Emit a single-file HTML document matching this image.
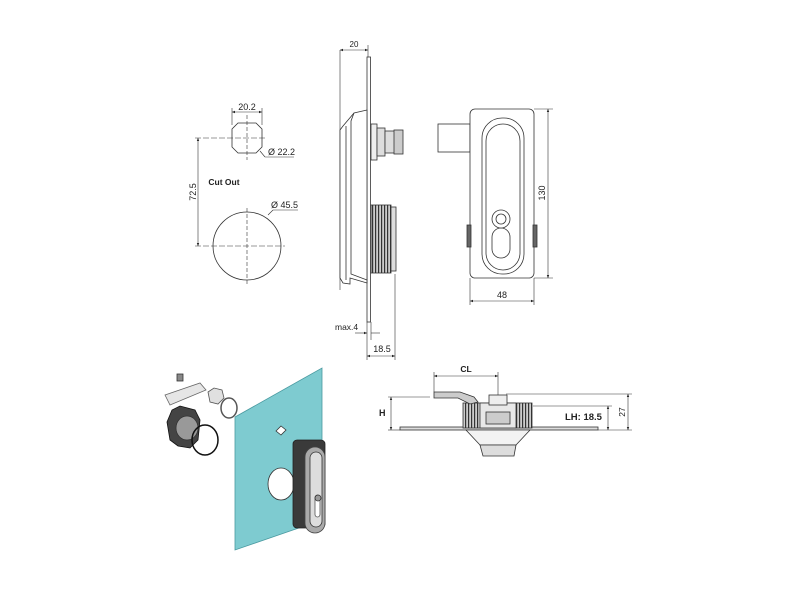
<!DOCTYPE html>
<html><head><meta charset="utf-8"><style>
html,body{margin:0;padding:0;background:#fff;}
svg{display:block;font-family:"Liberation Sans",sans-serif;}
</style></head><body>
<svg width="800" height="600" viewBox="0 0 800 600" xmlns="http://www.w3.org/2000/svg">
<defs>
<marker id="a" viewBox="0 0 10 10" refX="10" refY="5" markerWidth="5" markerHeight="5" orient="auto-start-reverse"><path d="M0,1 L10,5 L0,9z" fill="#222"/></marker>
<pattern id="h" width="3" height="10" patternUnits="userSpaceOnUse"><rect width="3" height="10" fill="#ccc"/><rect width="1.2" height="10" fill="#333"/></pattern>
</defs>
<g stroke="#333" stroke-width="0.8" fill="none">
<!-- Cut out -->
<path d="M238,123 L256,123 L262,129 L262,147 L256,153 L238,153 L232,147 L232,129 Z" fill="#fff"/>
<line x1="247" y1="115" x2="247" y2="160" stroke-dasharray="4,2" stroke-width="0.6"/>
<line x1="195" y1="138" x2="266" y2="138" stroke-dasharray="6,2" stroke-width="0.6"/>
<line x1="232" y1="108" x2="232" y2="125" stroke-width="0.6"/>
<line x1="262" y1="108" x2="262" y2="125" stroke-width="0.6"/>
<line x1="232" y1="112" x2="262" y2="112" marker-start="url(#a)" marker-end="url(#a)" stroke-width="0.6"/>
<line x1="260" y1="151" x2="265" y2="157" stroke-width="0.6"/>
<line x1="265" y1="157" x2="294" y2="157" stroke-width="0.6"/>
<circle cx="247" cy="246" r="34" fill="#fff"/>
<line x1="247" y1="208" x2="247" y2="285" stroke-dasharray="4,2" stroke-width="0.6"/>
<line x1="195" y1="246" x2="285" y2="246" stroke-dasharray="6,2" stroke-width="0.6"/>
<line x1="198" y1="138" x2="198" y2="246" marker-start="url(#a)" marker-end="url(#a)" stroke-width="0.6"/>
<line x1="268" y1="215" x2="273" y2="210" stroke-width="0.6"/>
<line x1="273" y1="210" x2="298" y2="210" stroke-width="0.6"/>
<!-- Side view -->
<line x1="340" y1="50" x2="340" y2="290" stroke-width="0.6"/>
<line x1="368" y1="45" x2="368" y2="57" stroke-width="0.6"/>
<line x1="340" y1="50" x2="368" y2="50" marker-start="url(#a)" marker-end="url(#a)" stroke-width="0.6"/>
<rect x="367" y="57" width="3.5" height="265" fill="#fff"/>
<path d="M367,110 L354,113 L343,126 L340,130 L340,278 L343,283 L350,284 L350,278 L367,283 Z" fill="#fff"/>
<path d="M354,113 L351,121 L351,274 L367,280" />
<line x1="346" y1="126" x2="346" y2="280"/>
<rect x="371" y="124" width="6" height="36" fill="#eee"/>
<rect x="377" y="128" width="8" height="28" fill="#ddd"/>
<rect x="385" y="131" width="10" height="22" fill="#ddd"/>
<rect x="394" y="130" width="9" height="24" fill="#ccc"/>
<rect x="371" y="205" width="20" height="68" fill="url(#h)"/>
<rect x="391" y="207" width="5" height="64" fill="#ddd"/>
<line x1="395" y1="274" x2="395" y2="360" stroke-width="0.6"/>
<line x1="367" y1="322" x2="367" y2="360" stroke-width="0.6"/>
<line x1="371" y1="322" x2="371" y2="340" stroke-width="0.6"/>
<line x1="355" y1="333" x2="367" y2="333" marker-end="url(#a)" stroke-width="0.6"/>
<line x1="371" y1="333" x2="380" y2="333" stroke-width="0.6"/>
<line x1="367" y1="356" x2="395" y2="356" marker-start="url(#a)" marker-end="url(#a)" stroke-width="0.6"/>
<!-- Front view -->
<rect x="438" y="124" width="32" height="28" fill="#fff"/>
<rect x="470" y="109" width="64" height="169" rx="5" fill="#fff"/>
<rect x="482" y="118" width="42" height="156" rx="20" fill="#fff"/>
<rect x="486" y="124" width="34" height="146" rx="17"/>
<rect x="492" y="228" width="18" height="30" rx="9"/>
<circle cx="501" cy="219" r="9" fill="#fff"/>
<circle cx="501" cy="219" r="5"/>
<rect x="467" y="225" width="4" height="22" fill="#666"/>
<rect x="533" y="225" width="4" height="22" fill="#666"/>
<line x1="534" y1="109" x2="553" y2="109" stroke-width="0.6"/>
<line x1="534" y1="278" x2="553" y2="278" stroke-width="0.6"/>
<line x1="548" y1="109" x2="548" y2="278" marker-start="url(#a)" marker-end="url(#a)" stroke-width="0.6"/>
<line x1="470" y1="278" x2="470" y2="305" stroke-width="0.6"/>
<line x1="534" y1="278" x2="534" y2="305" stroke-width="0.6"/>
<line x1="470" y1="301" x2="534" y2="301" marker-start="url(#a)" marker-end="url(#a)" stroke-width="0.6"/>
<!-- 3D -->
<polygon points="235,417 322,368 322,520 235,550" fill="#7ecbd0" stroke="#4a9aa0"/>
<path d="M276,431 L281,426 L286,430 L281,435 Z" fill="#fff"/>
<ellipse cx="281" cy="484" rx="13" ry="16" fill="#fff"/>
<rect x="293" y="440" width="32" height="88" rx="4" fill="#3a3a3a" stroke="#222"/>
<rect x="305" y="447" width="20" height="86" rx="10" fill="#aaa" stroke="#444"/>
<rect x="310" y="452" width="12" height="75" rx="6" fill="#ddd"/>
<rect x="315" y="495" width="5" height="22" rx="2.5" fill="#fff" stroke="#555"/>
<circle cx="318" cy="498" r="3" fill="#999"/>
<path d="M165,395 L200,383 L206,390 L170,405 Z" fill="#e6e6e6" stroke="#666"/>
<path d="M167,422 L172,410 L180,406 L195,410 L200,420 L198,440 L190,448 L178,446 L170,440 Z" fill="#444" stroke="#111"/>
<ellipse cx="187" cy="428" rx="11" ry="12" fill="#999"/>
<ellipse cx="205" cy="440" rx="13" ry="15" stroke="#111" stroke-width="1.5"/>
<path d="M208,392 L214,388 L222,390 L224,398 L218,404 L210,402 Z" fill="#e0e0e0" stroke="#555"/>
<ellipse cx="229" cy="408" rx="8" ry="10" stroke="#555" stroke-width="1.5"/>
<rect x="177" y="374" width="6" height="7" fill="#888"/>
<!-- Section -->
<rect x="400" y="427" width="198" height="3" fill="#ddd"/>
<rect x="463" y="403" width="69" height="25" fill="url(#h)" stroke="#333"/>
<rect x="480" y="403" width="36" height="25" fill="#e8e8e8"/>
<rect x="486" y="412" width="24" height="12" fill="#ccc"/>
<rect x="489" y="395" width="18" height="10" fill="#eee"/>
<path d="M434,392 L460,392 L474,397 L478,402 L470,404 L458,398 L434,398 Z" fill="#ccc"/>
<path d="M466,430 L530,430 L516,445 L480,445 Z" fill="#f3f3f3"/>
<path d="M480,445 L516,445 L514,456 L483,456 Z" fill="#ddd"/>
<line x1="434" y1="372" x2="434" y2="392" stroke-width="0.6"/>
<line x1="498" y1="372" x2="498" y2="395" stroke-width="0.6"/>
<line x1="434" y1="376" x2="498" y2="376" marker-start="url(#a)" marker-end="url(#a)" stroke-width="0.6"/>
<line x1="388" y1="397" x2="430" y2="397" stroke-width="0.6"/>
<line x1="388" y1="430" x2="400" y2="430" stroke-width="0.6"/>
<line x1="391" y1="397" x2="391" y2="430" marker-start="url(#a)" marker-end="url(#a)" stroke-width="0.6"/>
<line x1="506" y1="394" x2="632" y2="394" stroke-width="0.6"/>
<line x1="533" y1="406" x2="612" y2="406" stroke-width="0.6"/>
<line x1="598" y1="430" x2="632" y2="430" stroke-width="0.6"/>
<line x1="608" y1="406" x2="608" y2="430" marker-start="url(#a)" marker-end="url(#a)" stroke-width="0.6"/>
<line x1="628" y1="394" x2="628" y2="430" marker-start="url(#a)" marker-end="url(#a)" stroke-width="0.6"/>
</g>
<g fill="#222" font-size="9">
<text x="247" y="110" text-anchor="middle">20.2</text>
<text x="268" y="155">Ø 22.2</text>
<text x="224" y="185" text-anchor="middle" font-weight="bold" font-size="8.5">Cut Out</text>
<text x="271" y="208">Ø 45.5</text>
<text transform="translate(196,192) rotate(-90)" text-anchor="middle">72.5</text>
<text x="354" y="47" text-anchor="middle" font-size="8">20</text>
<text x="335" y="330" font-size="8.5">max.4</text>
<text x="382" y="352" text-anchor="middle">18.5</text>
<text transform="translate(545,193) rotate(-90)" text-anchor="middle">130</text>
<text x="502" y="298" text-anchor="middle">48</text>
<text x="466" y="372" text-anchor="middle" font-weight="bold" font-size="8.5">CL</text>
<text x="379" y="416" font-weight="bold">H</text>
<text x="565" y="420" font-weight="bold" font-size="9.5">LH: 18.5</text>
<text transform="translate(625,412) rotate(-90)" text-anchor="middle" font-size="8.5">27</text>
</g>
</svg>
</body></html>
